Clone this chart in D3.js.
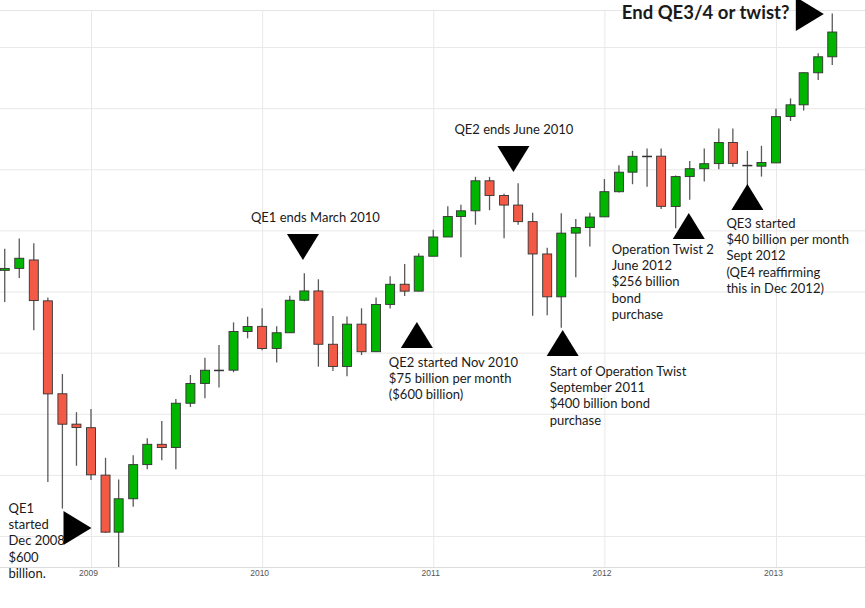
<!DOCTYPE html>
<html><head><meta charset="utf-8">
<script src="https://cdn.jsdelivr.net/npm/d3@7/dist/d3.min.js"></script>
<style>body{margin:0;background:#fff}svg{display:block}</style>
</head><body><svg id="c" width="865" height="608"></svg>
<script>
// Monthly OHLC (Dow Jones Industrial Average), Jul 2008 - May 2013
const months = ["2008-07","2008-08","2008-09","2008-10","2008-11","2008-12",
"2009-01","2009-02","2009-03","2009-04","2009-05","2009-06","2009-07","2009-08","2009-09","2009-10","2009-11","2009-12",
"2010-01","2010-02","2010-03","2010-04","2010-05","2010-06","2010-07","2010-08","2010-09","2010-10","2010-11","2010-12",
"2011-01","2011-02","2011-03","2011-04","2011-05","2011-06","2011-07","2011-08","2011-09","2011-10","2011-11","2011-12",
"2012-01","2012-02","2012-03","2012-04","2012-05","2012-06","2012-07","2012-08","2012-09","2012-10","2012-11","2012-12",
"2013-01","2013-02","2013-03","2013-04","2013-05"];
const open  = [11346,11378,11516,10847,9327,8830, 8772,7996,7063,7609,8168,8500,8447,9172,9496,9712,9713,10345,
10430,10068,10325,10857,11009,10137,9774,10466,10015,10789,11119,11006, 11577,11892,12226,12320,12811,12570,12414,12143,11614,10913,11955,12046,
12221,12632,12952,13212,13214,12391,12880,13009,13092,13437,13065,13050, 13104,13862,14054,14578,14840];
const high  = [11698,11867,11791,10900,9650,9026, 9078,8280,7924,8320,8598,8880,9241,9634,9917,10125,10495,10588,
10725,10430,10930,11300,11200,10600,10590,10725,10900,11250,11450,11625, 12010,12395,12420,12876,12875,12600,12770,12290,11715,12282,12188,12290,
12840,13065,13300,13338,13340,12898,13135,13340,13665,13665,13300,13384, 13990,14160,14585,14897,15550];
const low   = [10827,11221,10365,7882,7449,8149, 7916,7050,6470,7480,8090,8240,8090,9110,9253,9430,9679,10234,
10040,9840,10320,10840,9770,9700,9614,9960,10015,10720,10926,11006, 11577,11892,11560,12093,12330,11870,12090,10605,10610,10405,11232,11735,
12221,12620,12755,12712,12350,12035,12500,12800,13000,13040,12471,12880, 13104,13790,13960,14460,14705];
const close = [11378,11544,10851,9325,8829,8776, 8001,7063,7609,8168,8500,8447,9172,9496,9712,9713,10345,10428,
10067,10325,10857,11009,10137,9774,10466,10015,10788,11118,11006,11578, 11892,12226,12320,12811,12570,12414,12143,11614,10913,11955,12046,12218,
12633,12952,13212,13214,12393,12880,13009,13091,13437,13096,13058,13110, 13861,14054,14579,14840,15245];
const yearTicks = [2009,2010,2011,2012,2013];
const gridValues = [7000,8000,9000,10000,11000,12000,13000,14000,15000];

// Annotations: anchor (date, value) of the triangle tip, direction, text lines
const notes = [
  {date:"2009-01-02", value:7130,  dir:"right", lines:["QE1","started","Dec 2008","$600","billion."], dx:-83, dy:-15},
  {date:"2010-03-29", value:11515, dir:"down",  lines:["QE1 ends March 2010"], dx:-52, dy:-38},
  {date:"2010-11-27", value:10500, dir:"up",    lines:["QE2 started Nov 2010","$75 billion per month","($600 billion)"], dx:-28, dy:45},
  {date:"2011-06-21", value:12955, dir:"down",  lines:["QE2 ends June 2010"], dx:-59, dy:-38},
  {date:"2011-10-04", value:10370, dir:"up",    lines:["Start of Operation Twist","September 2011","$400 billion bond","purchase"], dx:-13, dy:46},
  {date:"2012-06-29", value:12284, dir:"up",    lines:["Operation Twist 2","June 2012","$256 billion","bond","purchase"], dx:-77, dy:41},
  {date:"2012-11-01", value:12759, dir:"up",    lines:["QE3 started","$40 billion per month","Sept 2012","(QE4 reaffirming","this in Dec 2012)"], dx:-21, dy:44},
  {date:"2013-04-13", value:15540, dir:"right", lines:["End QE3/4 or twist?"], dx:-202, dy:5, big:true}
];

const W = 865, H = 608, plotTop = 10, plotBottom = 567;
const svg = d3.select("#c");
const parse = d3.utcParse("%Y-%m-%d");
const x = d3.scaleUtc().domain([new Date(Date.UTC(2009,0,1)), new Date(Date.UTC(2013,0,1))]).range([91, 776]);
const y = d3.scaleLinear().domain([7000, 15000]).range([536, 47]);

// grid
const gy = svg.append("g")
  .call(d3.axisLeft(y).tickValues(gridValues).tickSize(-W).tickFormat(""));
gy.select(".domain").remove();
gy.selectAll(".tick line").attr("stroke","#e8e8e8").attr("stroke-width",1);
const gx = svg.append("g").attr("transform",`translate(0,${plotBottom})`)
  .call(d3.axisBottom(x).tickValues(yearTicks.map(v=>new Date(Date.UTC(v,0,1)))).tickSize(-(plotBottom-plotTop)).tickFormat(""));
gx.select(".domain").remove();
gx.selectAll(".tick line").attr("stroke","#e8e8e8").attr("stroke-width",1);
svg.append("line").attr("x1",0).attr("x2",W).attr("y1",plotTop+0.5).attr("y2",plotTop+0.5).attr("stroke","#e6e6e6");

// x axis
const ax = svg.append("g").attr("transform",`translate(0,${plotBottom})`)
  .call(d3.axisBottom(x).tickValues(yearTicks.map(v=>new Date(Date.UTC(v,0,1)))).tickSize(0).tickPadding(3).tickFormat(d3.utcFormat("%Y")));
ax.select(".domain").attr("d",`M0,0.5H${W}`).attr("stroke","#dcdcdc");
ax.selectAll("text").attr("font-family","Liberation Sans, Arial, sans-serif").attr("font-size",8.5).attr("fill","#555").attr("dx",-3);

// candles
svg.append("clipPath").attr("id","plot").append("rect").attr("x",0).attr("y",plotTop).attr("width",W).attr("height",plotBottom-plotTop);
const data = months.map((m,i)=>({d:new Date(Date.UTC(+m.slice(0,4), +m.slice(5,7)-1, 1)), o:open[i], h:high[i], l:low[i], c:close[i]}));
const cg = svg.append("g").attr("clip-path","url(#plot)");
const bw = 9;
const cs = cg.selectAll("g.c").data(data).join("g").attr("class","c");
cs.append("line").attr("x1",d=>x(d.d)).attr("x2",d=>x(d.d)).attr("y1",d=>y(d.h)).attr("y2",d=>y(d.l))
  .attr("stroke","#5a5a5a").attr("stroke-width",1.3);
cs.append("rect").attr("x",d=>x(d.d)-bw/2).attr("width",bw)
  .attr("y",d=>y(Math.max(d.o,d.c))).attr("height",d=>Math.max(0.6, Math.abs(y(d.o)-y(d.c))))
  .attr("fill",d=>d.c>=d.o?"#00b400":"#f25a45").attr("stroke","#333").attr("stroke-width",0.9);

// annotations
const ng = svg.append("g");
notes.forEach(n=>{
  const px = x(parse(n.date)), py = y(n.value);
  let pts;
  if(n.dir==="right") pts = [[px,py],[px-28,py-17],[px-28,py+17]];
  else if(n.dir==="down") pts = [[px,py],[px-16,py-26],[px+16,py-26]];
  else pts = [[px,py],[px-16,py+26],[px+16,py+26]];
  ng.append("path").attr("d","M"+pts.join("L")+"Z").attr("fill","#000");
  const t = ng.append("text").attr("x",px+n.dx).attr("y",py+n.dy)
    .attr("font-family","Lato, 'Noto Sans', sans-serif")
    .attr("font-size", n.big?18.5:13).attr("font-weight", n.big?700:400).attr("fill","#1a1a1a");
  n.lines.forEach((s,i)=>t.append("tspan").attr("x",px+n.dx).attr("dy", i===0?0:16.2).text(s));
});
</script></body></html>
